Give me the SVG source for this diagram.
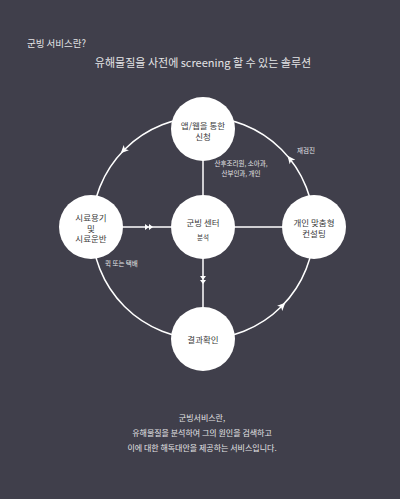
<svg xmlns="http://www.w3.org/2000/svg" width="400" height="499" viewBox="0 0 400 499">
<style>
text{font-family:"Noto Sans CJK KR","Noto Sans",sans-serif;}
.lt{fill:#e4e4e6;}
.nt{fill:#3a3a3a;font-size:8.5px;text-anchor:middle;}
.sm{font-size:6.5px;}
.node{fill:#ffffff;}
.ln{stroke:#ffffff;stroke-width:1.5;fill:none;}
.ah{fill:#ffffff;}
</style>
<defs>
<path id="a1" d="M4,0 L-4,-3.6 L-2,0 L-4,3.6 Z"/>
<path id="a2" d="M-4,-3 L0,0 L-4,3 Z M0,-3 L4,0 L0,3 Z"/>
</defs>
<rect x="0" y="0" width="400" height="499" fill="#403f4b"/>
<text class="lt" x="27" y="47" font-size="9.5">군빙 서비스란?</text>
<text class="lt" x="203" y="67" font-size="11" text-anchor="middle">유해물질을 사전에 screening 할 수 있는 솔루션</text>
<g id="connectors">
<circle class="ln" cx="203" cy="228" r="111"/>
<line class="ln" x1="203" y1="129" x2="203" y2="339"/>
<line class="ln" x1="91" y1="227" x2="314" y2="227"/>
<use href="#a1" class="ah" transform="translate(123.5,150.5) rotate(134.3)"/>
<use href="#a1" class="ah" transform="translate(290,158.9) rotate(-128.5)"/>
<use href="#a1" class="ah" transform="translate(282.5,305.5) rotate(-45.7)"/>
<use href="#a2" class="ah" transform="translate(149,227)"/>
<use href="#a2" class="ah" transform="translate(203,280) rotate(90)"/>
</g>
<text class="lt sm" x="241" y="166" text-anchor="middle">산후조리원, 소아과,</text>
<text class="lt sm" x="241" y="175.5" text-anchor="middle">산부인과, 개인</text>
<text class="lt sm" x="297" y="153">재검진</text>
<text class="lt sm" x="105" y="266">퀵 또는 택배</text>
<g id="node-apply">
<circle class="node" cx="203" cy="129" r="32"/>
<text class="nt" x="203" y="129">앱/웹을 통한</text>
<text class="nt" x="203" y="140">신청</text>
</g>
<g id="node-sample">
<circle class="node" cx="91" cy="227" r="32"/>
<text class="nt" x="91" y="221">시료용기</text>
<text class="nt" x="91" y="231.5">및</text>
<text class="nt" x="91" y="242">시료운반</text>
</g>
<g id="node-center">
<circle class="node" cx="203" cy="227" r="32"/>
<text class="nt" x="203" y="226">군빙 센터</text>
<text class="nt sm" x="203" y="239.5">분석</text>
</g>
<g id="node-consult">
<circle class="node" cx="314" cy="227" r="32"/>
<text class="nt" x="314" y="226">개인 맞춤형</text>
<text class="nt" x="314" y="236.5">컨설팅</text>
</g>
<g id="node-result">
<circle class="node" cx="203" cy="339" r="32"/>
<text class="nt" x="203" y="343">결과확인</text>
</g>
<g id="footer">
<text class="lt" x="202" y="421" font-size="8" text-anchor="middle">군빙서비스란,</text>
<text class="lt" x="202" y="436" font-size="8" text-anchor="middle">유해물질을 분석하여 그의 원인을 검색하고</text>
<text class="lt" x="202" y="450.5" font-size="8" text-anchor="middle">이에 대한 해독대안을 제공하는 서비스입니다.</text>
</g>
</svg>
